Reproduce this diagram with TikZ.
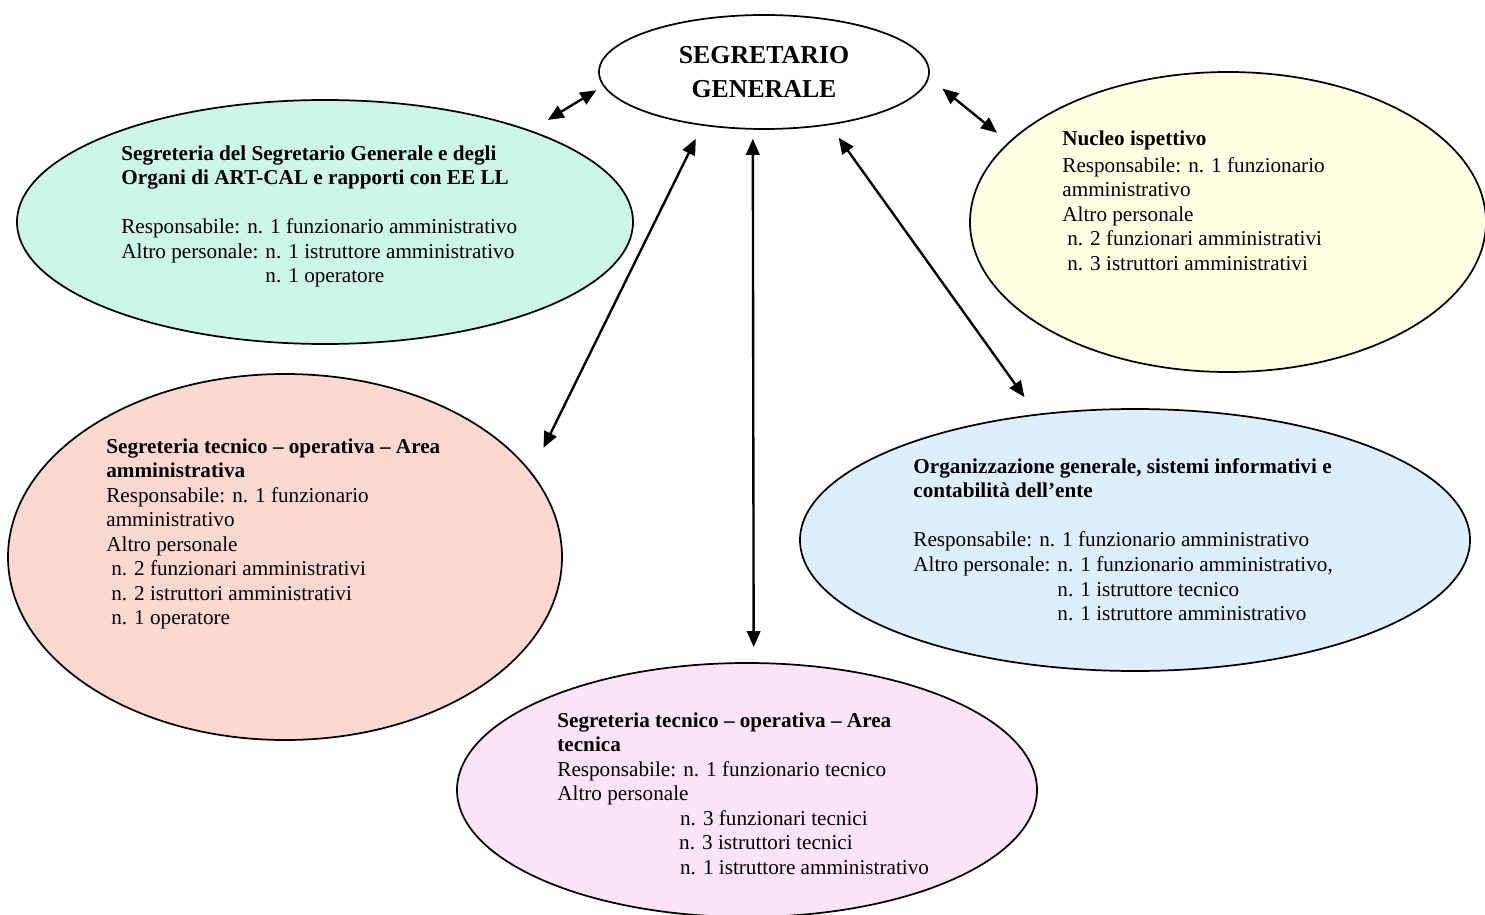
\documentclass[tikz,border=0pt]{standalone}
\usepackage{fontspec}
\setmainfont{Liberation Serif}
\usetikzlibrary{arrows.meta, shapes.geometric}

\definecolor{mintfill}{RGB}{204,246,230}
\definecolor{creamfill}{RGB}{255,255,228}
\definecolor{salmonfill}{RGB}{252,217,208}
\definecolor{skyfill}{RGB}{221,238,255}
\definecolor{pinkfill}{RGB}{252,228,246}

\begin{document}
\begin{tikzpicture}[x=0.55pt, y=-0.55pt,
  office/.style={ellipse, draw, line width=0.95pt, inner sep=0pt},
  staff/.style={anchor=north west, align=left, inner sep=0pt, font=\fontsize{11.65}{13.5}\selectfont},
  link/.style={{Triangle[length=8.8pt,width=7.4pt]}-{Triangle[length=8.8pt,width=7.4pt]}, line width=1.3pt}]
\useasboundingbox (0,0) rectangle (1485,915);

% Segretario generale
\node[office, fill=white, minimum width=181.5pt, minimum height=62.7pt, align=center,
  font=\bfseries\fontsize{14.2}{18.7}\selectfont] (boss) at (764,72) {SEGRETARIO\\GENERALE};

% Uffici
\node[office, fill=mintfill, minimum width=338.8pt, minimum height=134.2pt] (segr) at (325,222) {};
\node[office, fill=creamfill, minimum width=283.8pt, minimum height=165pt] (nucleo) at (1228,222) {};
\node[office, fill=salmonfill, minimum width=304.7pt, minimum height=201.3pt] (amm) at (285,557) {};
\node[office, fill=skyfill, minimum width=368.5pt, minimum height=144.1pt] (org) at (1135,540) {};
\node[office, fill=pinkfill, minimum width=319pt, minimum height=139.7pt] (tec) at (747,790) {};

% Personale
\node[staff] (segr-txt) at (121,145) {\textbf{Segreteria del Segretario Generale e degli}\\
  \textbf{Organi di ART-CAL e rapporti con EE LL}\\[13.5pt]
  Responsabile: n. 1 funzionario amministrativo\\
  Altro personale: n. 1 istruttore amministrativo\\
  \phantom{Altro personale: }n. 1 operatore};

\node[staff] (nucleo-txt) at (1062,130) {\textbf{Nucleo ispettivo}\\[1.5pt]
  Responsabile: n. 1 funzionario\\
  amministrativo\\
  Altro personale\\
  \hspace*{2.7pt}n. 2 funzionari amministrativi\\
  \hspace*{2.7pt}n. 3 istruttori amministrativi};

\node[staff] (amm-txt) at (106,438) {\textbf{Segreteria tecnico – operativa – Area}\\
  \textbf{amministrativa}\\
  Responsabile: n. 1 funzionario\\
  amministrativo\\
  Altro personale\\
  \hspace*{2.7pt}n. 2 funzionari amministrativi\\
  \hspace*{2.7pt}n. 2 istruttori amministrativi\\
  \hspace*{2.7pt}n. 1 operatore};

\node[staff] (org-txt) at (913,458) {\textbf{Organizzazione generale, sistemi informativi e}\\
  \textbf{contabilità dell’ente}\\[13.5pt]
  Responsabile: n. 1 funzionario amministrativo\\
  Altro personale: n. 1 funzionario amministrativo,\\
  \phantom{Altro personale: }n. 1 istruttore tecnico\\
  \phantom{Altro personale: }n. 1 istruttore amministrativo};

\node[staff] (tec-txt) at (557,712) {\textbf{Segreteria tecnico – operativa – Area}\\
  \textbf{tecnica}\\
  Responsabile: n. 1 funzionario tecnico\\
  Altro personale\\
  \hspace*{67.5pt}n. 3 funzionari tecnici\\
  \hspace*{67pt}n. 3 istruttori tecnici\\
  \hspace*{67.5pt}n. 1 istruttore amministrativo};

% Collegamenti
\draw[link, shorten <=4.4pt, shorten >=11pt] (boss.185) -- (segr.24.4);
\draw[link, shorten <=8pt, shorten >=14.9pt] (boss.221.3) -- (amm.19.9);
\draw[link, shorten <=5pt, shorten >=8.3pt] (boss.259.1) -- (tec.87.3);
\draw[link, shorten <=8.5pt, shorten >=11.4pt] (boss.321.1) -- (org.128.7);
\draw[link, shorten <=9.5pt, shorten >=8.1pt] (boss.358.6) -- (nucleo.160);
\end{tikzpicture}
\end{document}
